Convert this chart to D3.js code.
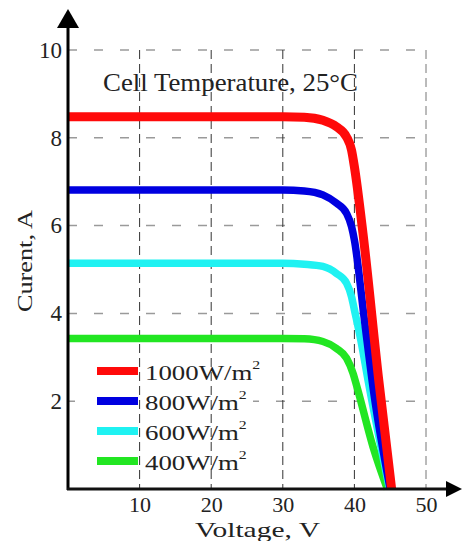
<!doctype html>
<html>
<head>
<script src="https://d3js.org/d3.v7.min.js"></script>
<style>
  body {margin:0; background:#fff}
  text {font-family:"Liberation Serif","Times New Roman",serif; fill:#222}
</style>
</head>
<body>
<script>
// data: [voltage V, current A]
var irr1000 = [[0,8.48],[30,8.48],[33,8.47],[35.6,8.4],[37.5,8.25],[38.9,8.02],[39.6,7.72],[40.0,7.34],[41.2,5.82],[43.4,2.48],[45.2,0]];
var irr800  = [[0,6.81],[30,6.81],[33,6.79],[35.6,6.7],[37.5,6.51],[38.9,6.28],[39.6,5.98],[40.0,5.67],[41.4,3.85],[42.7,2.2],[45.0,0]];
var irr600  = [[0,5.14],[30,5.14],[33,5.12],[35.6,5.07],[37.5,4.91],[38.9,4.69],[39.6,4.38],[40.0,4.08],[40.9,3.39],[41.9,2.48],[44.9,0]];
var irr400  = [[0,3.43],[30,3.43],[33,3.42],[35.6,3.36],[37.5,3.2],[38.9,2.98],[39.8,2.64],[40.4,2.3],[42.6,0.96],[44.6,0]];

var seriesNames = ["1000W/m", "800W/m", "600W/m", "400W/m"];
var seriesData  = [irr1000, irr800, irr600, irr400];
var seriesColor = ["#ff0a0a", "#0000e0", "#1ff2f2", "#22e622"];

var xTicks = [10, 20, 30, 40, 50];
var yTicks = [2, 4, 6, 8, 10];

var svg = d3.select("body").append("svg").attr("width", 462).attr("height", 541);

var x = d3.scaleLinear().domain([0, 50]).range([68, 426]);
var y = d3.scaleLinear().domain([0, 10]).range([489, 50]);

// horizontal grid (grey dashes)
svg.append("g").selectAll("line").data(yTicks).join("line")
    .attr("x1", x(0)).attr("x2", x(50))
    .attr("y1", function(d){ return y(d); }).attr("y2", function(d){ return y(d); })
    .attr("stroke", "#9a9a9a").attr("stroke-width", 1.5)
    .attr("stroke-dasharray", "9,17");

// white box behind the legend hides part of the grid
svg.append("rect").attr("x", 75).attr("y", 352).attr("width", 178).attr("height", 122).attr("fill", "#fff");

// vertical grid (dark dashes)
svg.append("g").selectAll("line").data(xTicks).join("line")
    .attr("x1", function(d){ return x(d); }).attr("x2", function(d){ return x(d); })
    .attr("y1", y(10)).attr("y2", y(0))
    .attr("stroke", function(d){ return d == 50 ? "#777" : "#333"; })
    .attr("stroke-width", 1)
    .attr("stroke-dasharray", "9,5");

// curves, drawn from lowest to highest so red sits on top
var line = d3.line()
    .x(function(d){ return x(d[0]); })
    .y(function(d){ return y(d[1]); })
    .curve(d3.curveMonotoneX);

var order = [3, 2, 1, 0];
svg.append("g").selectAll("path").data(order).join("path")
    .attr("d", function(i){ return line(seriesData[i]); })
    .attr("fill", "none")
    .attr("stroke", function(i){ return seriesColor[i]; })
    .attr("stroke-width", function(i){ return i == 0 ? 9 : 7.5; });

// axes with arrows
svg.append("line").attr("x1", 68).attr("x2", 68).attr("y1", 490).attr("y2", 25)
    .attr("stroke", "#000").attr("stroke-width", 3);
svg.append("path").attr("d", "M57,28L68,9L79,28Z").attr("fill", "#000");
svg.append("line").attr("x1", 67).attr("x2", 450).attr("y1", 489).attr("y2", 489)
    .attr("stroke", "#111").attr("stroke-width", 3);
svg.append("path").attr("d", "M446,481L462,489L446,497Z").attr("fill", "#000");

// tick labels
var gy = svg.append("g").attr("transform", "translate(68,0)")
    .call(d3.axisLeft(y).tickValues(yTicks).tickSize(0).tickPadding(6).tickFormat(d3.format("d")));
gy.select(".domain").remove();
gy.selectAll("text").attr("font-family", "Liberation Serif").attr("font-size", 23).style("fill", "#222");

var gx = svg.append("g").attr("transform", "translate(0,489)")
    .call(d3.axisBottom(x).tickValues(xTicks).tickSize(0).tickPadding(7).tickFormat(d3.format("d")));
gx.select(".domain").remove();
gx.selectAll("text").attr("font-family", "Liberation Serif").attr("font-size", 22).style("fill", "#222");

// title and axis titles
svg.append("text").attr("x", 103).attr("y", 91)
    .attr("font-size", 25).attr("textLength", 255).attr("lengthAdjust", "spacingAndGlyphs")
    .text("Cell Temperature, 25°C");

svg.append("text").attr("x", 195).attr("y", 537)
    .attr("font-size", 22).attr("textLength", 125).attr("lengthAdjust", "spacingAndGlyphs")
    .text("Voltage, V");

svg.append("text").attr("transform", "translate(32,312) rotate(-90)")
    .attr("font-size", 22).attr("textLength", 102).attr("lengthAdjust", "spacingAndGlyphs")
    .text("Curent, A");

// legend
var leg = svg.append("g").selectAll("g").data(seriesNames).join("g")
    .attr("transform", function(d, i){ return "translate(97," + (371 + i * 30) + ")"; });
leg.append("line").attr("x1", 0).attr("x2", 41).attr("y1", 0).attr("y2", 0)
    .attr("stroke", function(d, i){ return seriesColor[i]; }).attr("stroke-width", 8);
var lt = leg.append("text")
    .attr("transform", "translate(48,9) scale(1.22,1)")
    .attr("font-size", 22);
lt.append("tspan").text(function(d){ return d; });
lt.append("tspan").attr("font-size", 13).attr("dy", -11).text("2");
</script>
</body>
</html>
